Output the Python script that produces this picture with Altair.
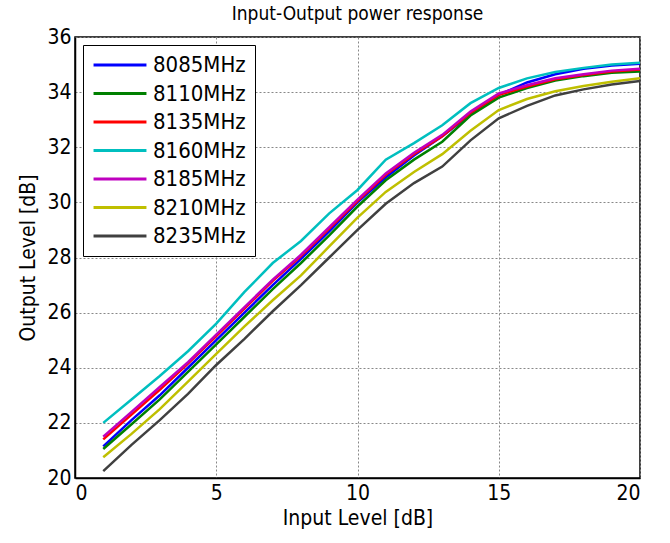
import altair as alt
import pandas as pd

FONT = "DejaVu Sans Condensed, Liberation Sans, sans-serif"

x_vals = list(range(1, 21))
series_names = ["8085MHz", "8110MHz", "8135MHz", "8160MHz", "8185MHz", "8210MHz", "8235MHz"]
series_colors = ["#0000ff", "#008000", "#ff0000", "#00bfbf", "#bf00bf", "#bfbf00", "#404040"]

y_8085 = [21.15, 22.1, 23.0, 24.0, 25.0, 26.0, 27.0, 27.95, 28.95, 30.0, 30.9, 31.7, 32.4, 33.2, 33.9, 34.35, 34.65, 34.85, 34.97, 35.03]
y_8110 = [21.05, 21.95, 22.85, 23.85, 24.85, 25.85, 26.85, 27.8, 28.8, 29.85, 30.8, 31.55, 32.2, 33.15, 33.8, 34.15, 34.42, 34.58, 34.7, 34.75]
y_8135 = [21.4, 22.3, 23.2, 24.15, 25.15, 26.15, 27.15, 28.05, 29.05, 30.05, 31.0, 31.75, 32.4, 33.25, 33.9, 34.2, 34.47, 34.62, 34.75, 34.82]
y_8160 = [22.0, 22.85, 23.7, 24.6, 25.6, 26.75, 27.8, 28.6, 29.6, 30.45, 31.55, 32.15, 32.8, 33.6, 34.15, 34.5, 34.73, 34.88, 35.0, 35.07]
y_8185 = [21.5, 22.4, 23.3, 24.2, 25.2, 26.2, 27.2, 28.1, 29.1, 30.1, 31.05, 31.8, 32.45, 33.3, 33.95, 34.25, 34.5, 34.65, 34.78, 34.85]
y_8210 = [20.75, 21.6, 22.5, 23.5, 24.5, 25.5, 26.45, 27.35, 28.4, 29.45, 30.38, 31.1, 31.75, 32.6, 33.35, 33.75, 34.03, 34.22, 34.38, 34.5]
y_8235 = [20.25, 21.2, 22.1, 23.05, 24.1, 25.05, 26.05, 27.0, 28.0, 29.0, 29.95, 30.7, 31.3, 32.25, 33.05, 33.5, 33.88, 34.1, 34.28, 34.4]

all_y = [y_8085, y_8110, y_8135, y_8160, y_8185, y_8210, y_8235]

rows = []
for name, ys in zip(series_names, all_y):
    for xv, yv in zip(x_vals, ys):
        rows.append({"Input": xv, "Output": yv, "Freq": name})
df = pd.DataFrame(rows)

chart = alt.Chart(df).mark_line(strokeWidth=2.5, clip=True).encode(
    x=alt.X("Input:Q", scale=alt.Scale(domain=[0, 20], nice=False, zero=False),
            axis=alt.Axis(values=[0, 5, 10, 15, 20], title="Input Level [dB]")),
    y=alt.Y("Output:Q", scale=alt.Scale(domain=[20, 36], nice=False, zero=False),
            axis=alt.Axis(values=[20, 22, 24, 26, 28, 30, 32, 34, 36], title="Output Level [dB]")),
    color=alt.Color("Freq:N", scale=alt.Scale(domain=series_names, range=series_colors),
                    legend=alt.Legend(title=None, orient="none", legendX=8, legendY=8,
                                      symbolType="stroke", symbolSize=2800, symbolStrokeWidth=3,
                                      clipHeight=22, rowPadding=6.5,
                                      labelFontSize=22, labelFont=FONT, labelColor="black",
                                      strokeColor="black", padding=9,
                                      fillColor="white", labelOffset=5)),
    order=alt.Order("Freq:N"),
).properties(
    width=565, height=441,
    title=alt.TitleParams("Input-Output power response", fontSize=19, font=FONT,
                          fontWeight="normal", color="black", offset=2),
    autosize=alt.AutoSizeParams(type="none"),
    padding={"left": 75, "top": 37, "right": 30, "bottom": 65},
).configure_view(
    stroke="black", strokeWidth=1.5
).configure_axis(
    labelFont=FONT, labelFontSize=21, labelColor="black",
    titleFont=FONT, titleFontSize=21, titleFontWeight="normal", titleColor="black",
    domainColor="black", domainWidth=1.5, tickColor="black", tickSize=0,
    gridColor="#888888", gridDash=[2, 2], gridWidth=1, gridOpacity=1,
    labelPadding=4,
).configure_axisX(titlePadding=4).configure_axisY(titlePadding=8)

chart.save("out.html", embed_options={"renderer": "svg", "actions": False})
